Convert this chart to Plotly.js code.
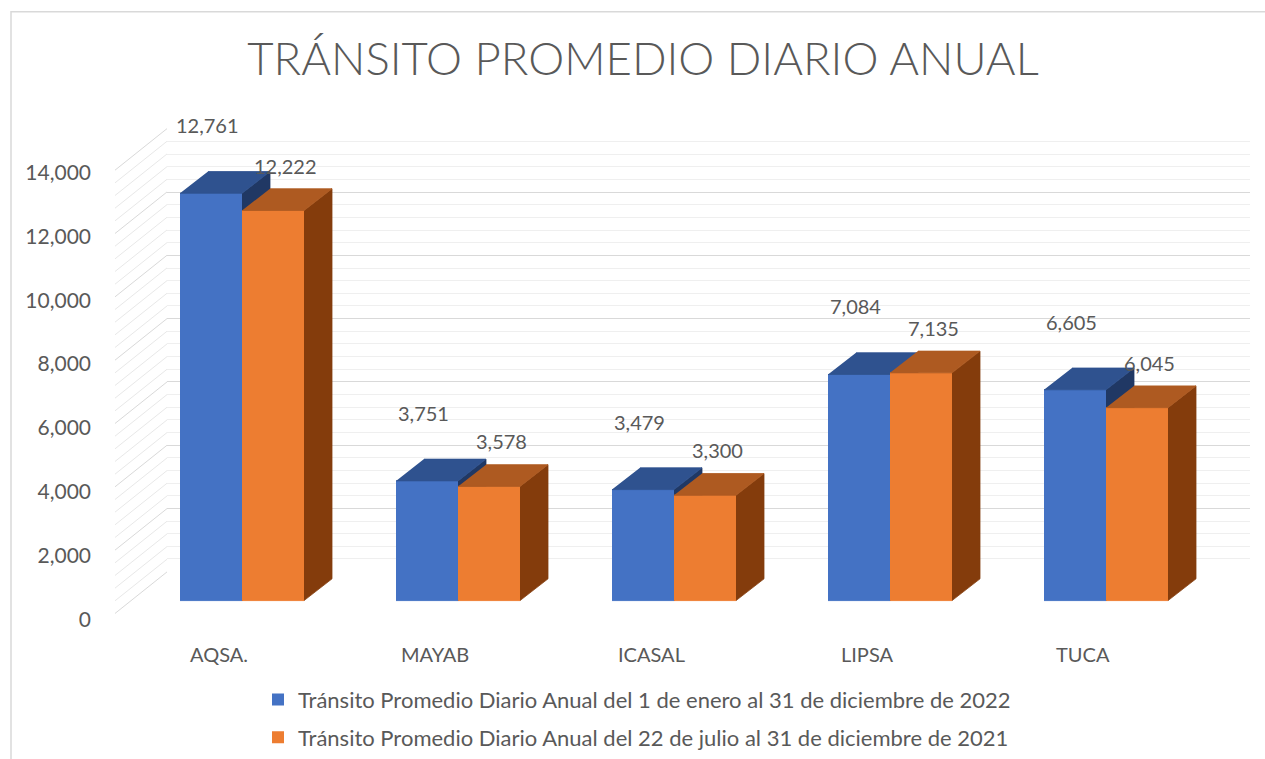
<!DOCTYPE html>
<html><head><meta charset="utf-8">
<script src="https://cdn.plot.ly/plotly-3.0.1.min.js"></script>
<style>html,body{margin:0;padding:0;background:#fff;}</style>
</head><body>
<div id="chart" style="width:1265px;height:759px;"></div>
<script>
// ---- data ----
const categories = ['AQSA.', 'MAYAB', 'ICASAL', 'LIPSA', 'TUCA'];
const values2022 = [12761, 3751, 3479, 7084, 6605];
const values2021 = [12222, 3578, 3300, 7135, 6045];
const seriesNames = [
  'Tránsito Promedio Diario Anual del 1 de enero al 31 de diciembre de 2022',
  'Tránsito Promedio Diario Anual del 22 de julio al 31 de diciembre de 2021'
];
const yTickValues = [0, 2000, 4000, 6000, 8000, 10000, 12000, 14000];
const titleText = 'TRÁNSITO PROMEDIO DIARIO ANUAL';

// ---- layout geometry (pixels) ----
const W = 1265, H = 759;
const X0PX = 242, XSTEP = 216;       // first category centre, px per category
const BASEPX = 607, UPP = 31;         // front baseline, value units per pixel
const LABEL0PX = 626;                 // axis label position for 0 (front edge of floor)
const WALL = {left: 167, right: 1250, bottom: 578, top: 130};
const FLOOR_DX = 52, FLOOR_DY = 42;   // depth of the floor
const BARW = 62 / XSTEP;
const DX = 28 / XSTEP, DY = 22 * UPP; // depth of each bar
const TXT = '#595959';
const FONT = 'Lato, "Open Sans", "Liberation Sans", sans-serif';

const colors = {
  blue:   {front: '#4472C4', top: '#2F528F', side: '#203864'},
  orange: {front: '#ED7D31', top: '#AE5A21', side: '#843C0C'}
};

function faces(values, k, kind) {
  const xs = [], ys = [];
  values.forEach((v, i) => {
    const xl = i + (k - 1) * BARW, xr = xl + BARW;
    let pts;
    if (kind === 'front') pts = [[xl, 0], [xr, 0], [xr, v], [xl, v]];
    else if (kind === 'top') pts = [[xl, v], [xr, v], [xr + DX, v + DY], [xl + DX, v + DY]];
    else pts = [[xr, 0], [xr + DX, DY], [xr + DX, v + DY], [xr, v]];
    pts.forEach(p => { xs.push(p[0]); ys.push(p[1]); });
    xs.push(null); ys.push(null);
  });
  return {xs, ys};
}
function faceTrace(values, k, kind, color) {
  const f = faces(values, k, kind);
  return {type: 'scatter', mode: 'lines', x: f.xs, y: f.ys, fill: 'toself',
    fillcolor: color, line: {color: color, width: 0.8}, xaxis: 'x2', yaxis: 'y2',
    hoverinfo: 'skip', showlegend: false};
}

const idx = categories.map((c, i) => i);
const traces = [];
// back wall dummy
traces.push({type: 'scatter', x: [0.5], y: [null], xaxis: 'x', yaxis: 'y', showlegend: false, hoverinfo: 'skip'});
// legend / front bars
traces.push({type: 'bar', x: idx, y: values2022, width: BARW, offset: -BARW, name: seriesNames[0],
  marker: {color: colors.blue.front}, xaxis: 'x2', yaxis: 'y2', hoverinfo: 'skip', legendgroup: 'a'});
traces.push({type: 'bar', x: idx, y: values2021, width: BARW, offset: 0, name: seriesNames[1],
  marker: {color: colors.orange.front}, xaxis: 'x2', yaxis: 'y2', hoverinfo: 'skip', legendgroup: 'b'});
// 3D faces in painting order
traces.push(faceTrace(values2022, 0, 'front', colors.blue.front));
traces.push(faceTrace(values2022, 0, 'side', colors.blue.side));
traces.push(faceTrace(values2022, 0, 'top', colors.blue.top));
traces.push(faceTrace(values2021, 1, 'front', colors.orange.front));
traces.push(faceTrace(values2021, 1, 'side', colors.orange.side));
traces.push(faceTrace(values2021, 1, 'top', colors.orange.top));
// y tick label axis dummy
traces.push({type: 'scatter', x: [0], y: [null], xaxis: 'x2', yaxis: 'y3', showlegend: false, hoverinfo: 'skip'});

const fmt = v => v.toLocaleString('en-US');
const annotations = [];
values2022.forEach((v, i) => annotations.push({x: i - BARW / 2, y: v, xref: 'x2', yref: 'y2',
  text: fmt(v), showarrow: false, yshift: 68, xshift: -4, font: {family: FONT, size: 20, color: TXT}}));
values2021.forEach((v, i) => annotations.push({x: i + BARW / 2, y: v, xref: 'x2', yref: 'y2',
  text: fmt(v), showarrow: false, yshift: 45, xshift: 12, font: {family: FONT, size: 20, color: TXT}}));
categories.forEach((c, i) => annotations.push({x: i, y: 1 - 661 / H, xref: 'x2', yref: 'paper',
  text: c, showarrow: false, xshift: -23, yanchor: 'middle', font: {family: FONT, size: 20, color: TXT}}));

// left-wall diagonals (one per grid line of the back wall)
const shapes = [];
const wallScale = (WALL.bottom - WALL.top) / 14000;
for (let v = 0; v <= 14000; v += 400) {
  const pyb = WALL.bottom - v * wallScale;
  shapes.push({type: 'line', xref: 'paper', yref: 'paper', layer: 'below',
    x0: WALL.left / W, y0: 1 - pyb / H, x1: (WALL.left - FLOOR_DX) / W, y1: 1 - (pyb + FLOOR_DY) / H,
    line: {color: v % 2000 === 0 ? '#d9d9d9' : '#e8e8e8', width: 1}});
}
// chart-area frame (left and top edges visible in the crop)
shapes.push({type: 'rect', xref: 'paper', yref: 'paper', x0: 11 / W, x1: 1.02, y0: -0.02, y1: 1 - 12 / H,
  line: {color: '#d9d9d9', width: 1.5}, layer: 'below'});

const layout = {
  width: W, height: H, margin: {l: 0, r: 0, t: 0, b: 0},
  paper_bgcolor: '#ffffff', plot_bgcolor: 'rgba(0,0,0,0)',
  showlegend: true, barmode: 'overlay',
  title: {text: titleText, x: 643 / W, xanchor: 'center', y: 1 - 59 / H, yanchor: 'middle',
    font: {family: FONT, size: 45.5, color: TXT, weight: 300}},
  xaxis: {domain: [WALL.left / W, WALL.right / W], range: [0, 1], visible: false, fixedrange: true},
  yaxis: {domain: [1 - WALL.bottom / H, 1 - WALL.top / H], range: [-8, 14008], tick0: 0, dtick: 2000,
    showticklabels: false, ticks: '', showgrid: true, gridcolor: '#d9d9d9', gridwidth: 1,
    zeroline: false, showline: false, fixedrange: true,
    minor: {dtick: 400, showgrid: true, gridcolor: '#efefef', gridwidth: 1, ticks: ''}},
  xaxis2: {domain: [0, 1], anchor: 'y2', range: [-X0PX / XSTEP, (W - X0PX) / XSTEP], visible: false, fixedrange: true},
  yaxis2: {domain: [0, 1], anchor: 'x2', range: [-(H - BASEPX) * UPP, BASEPX * UPP], visible: false, fixedrange: true},
  yaxis3: {overlaying: 'y2', anchor: 'free', position: 91 / W, side: 'left',
    range: [-(H - LABEL0PX) * UPP, LABEL0PX * UPP], tickvals: yTickValues, ticktext: yTickValues.map(fmt),
    ticks: '', showgrid: false, zeroline: false, showline: false, fixedrange: true,
    tickfont: {family: FONT, size: 21, color: TXT}},
  legend: {x: 258 / W, xanchor: 'left', y: 1 - 686 / H, yanchor: 'top', orientation: 'v',
    traceorder: 'grouped', tracegroupgap: 6, bgcolor: 'rgba(0,0,0,0)',
    font: {family: FONT, size: 22, color: TXT}},
  annotations: annotations, shapes: shapes
};

Plotly.newPlot('chart', traces, layout, {displayModeBar: false, staticPlot: true});
</script>
</body></html>
